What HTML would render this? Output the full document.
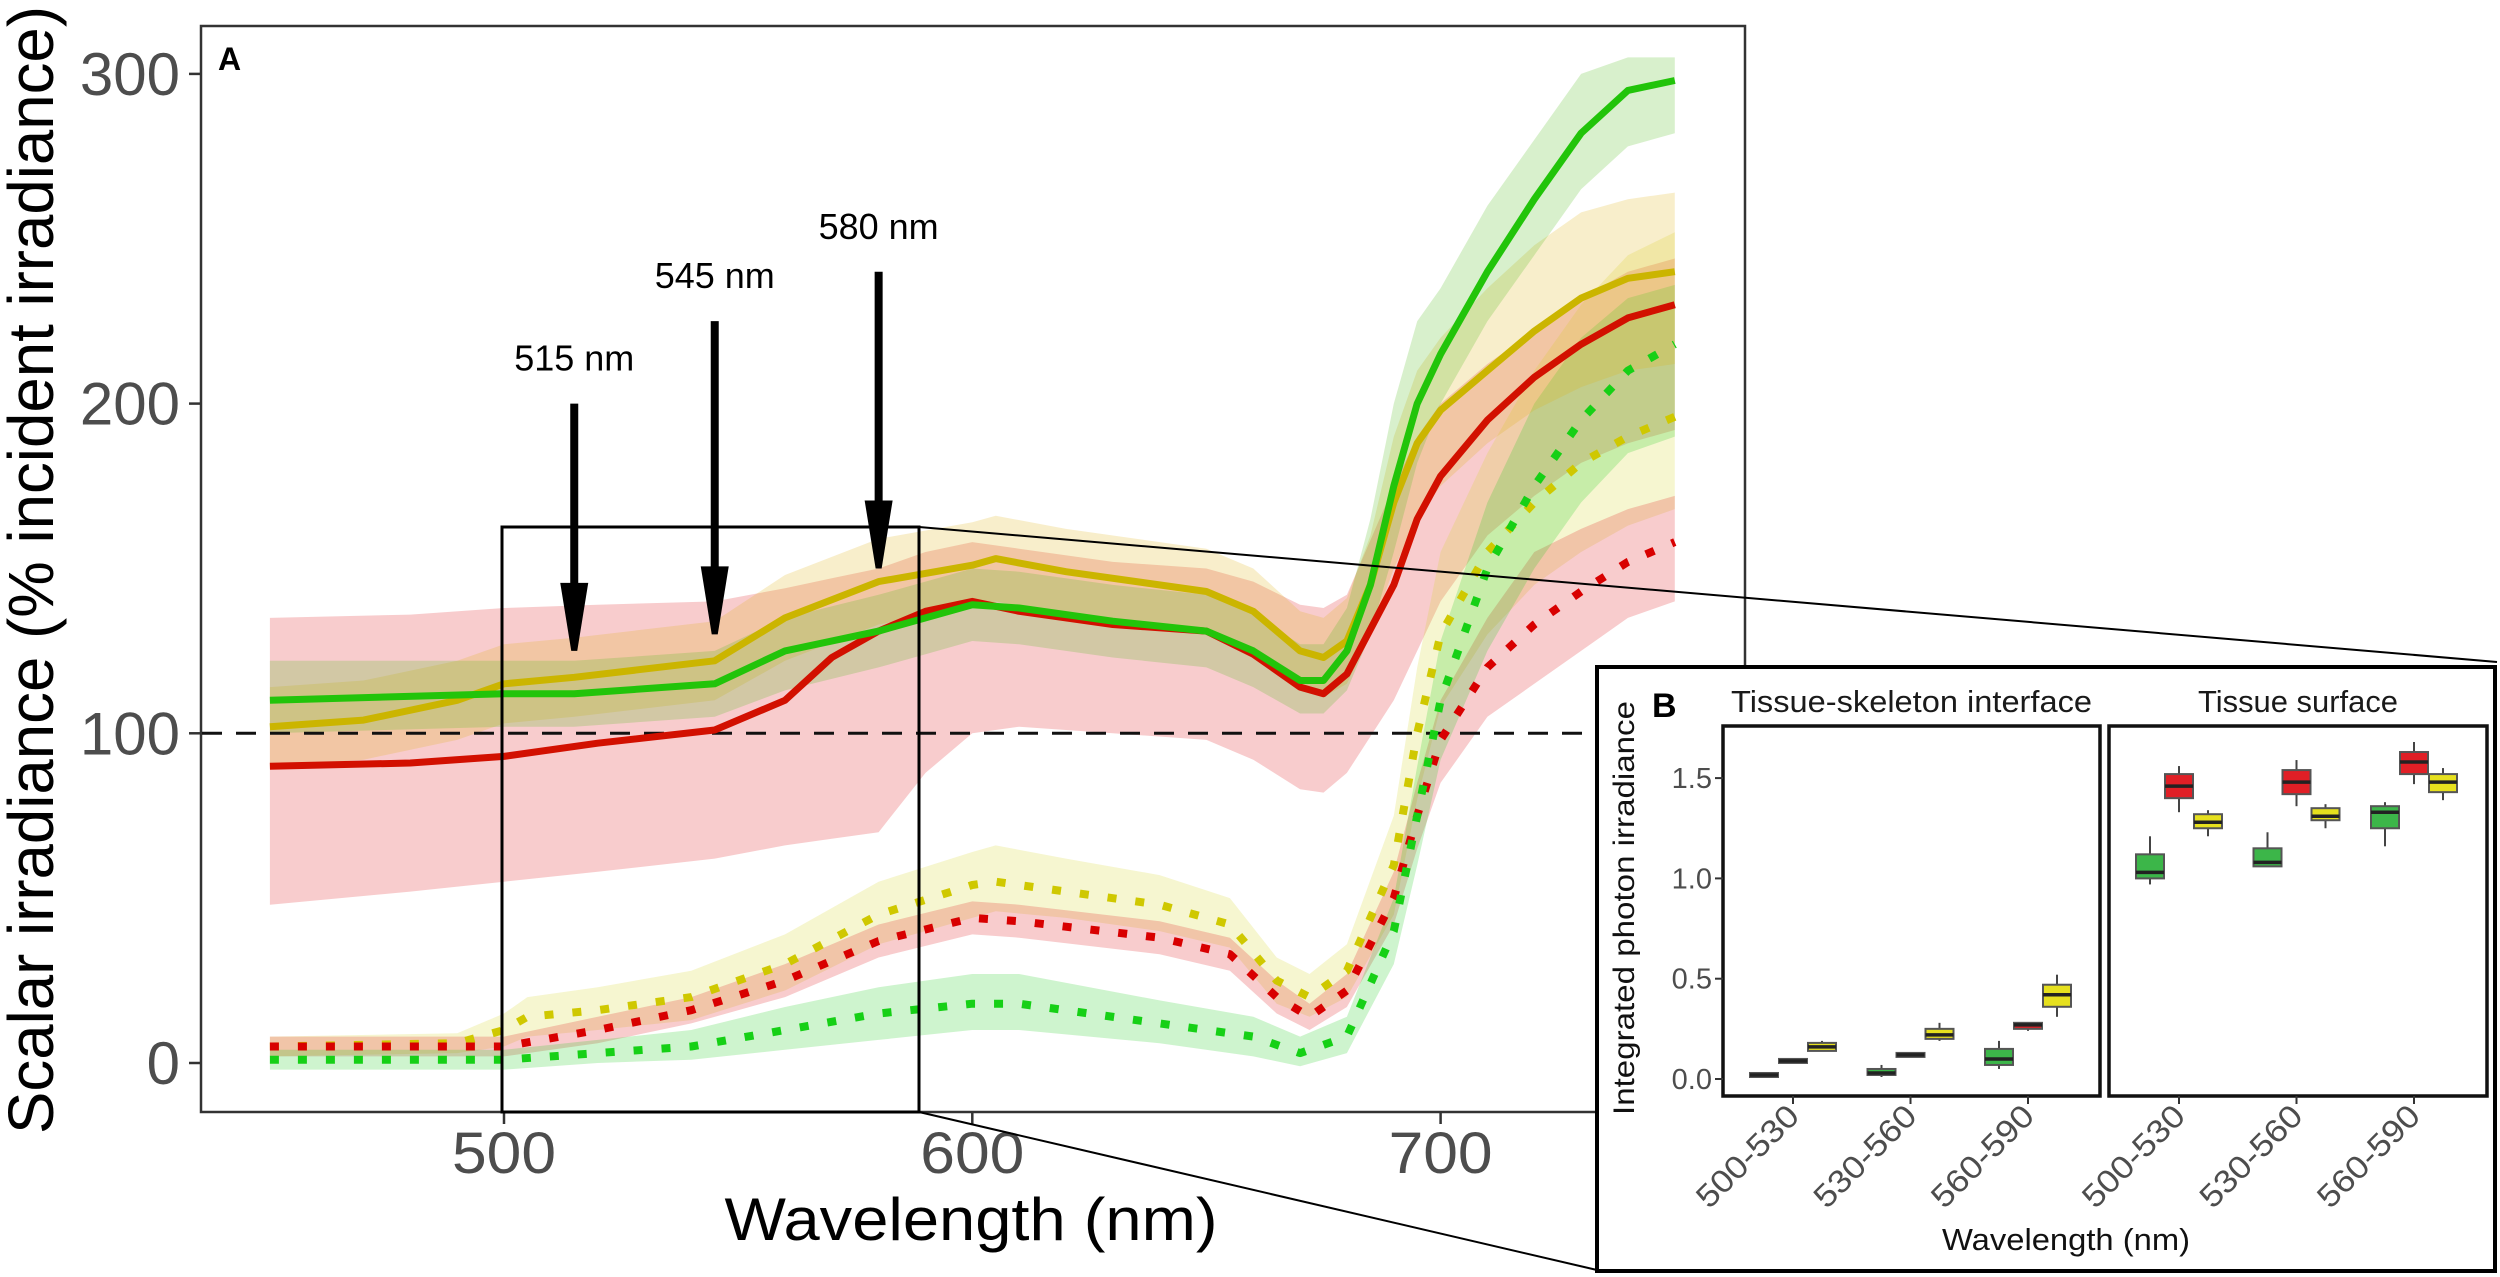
<!DOCTYPE html>
<html><head><meta charset="utf-8"><style>
html,body{margin:0;padding:0;background:#fff;}
svg{display:block;}
text{font-family:"Liberation Sans",sans-serif;}
</style></head><body>
<svg id="chart" width="2500" height="1277" viewBox="0 0 2500 1277" xmlns="http://www.w3.org/2000/svg">
<g id="panelA"></g>
<g id="panelB"></g>
</svg>
<script>
// ---------- Panel A data ----------
const solidGreenWl = [450,500,515,545,560,580,590,600,610,630,650,660,670,675,680,685,690,695,700,710,720,730,740,750];
const solidGreenVal = [110,112,112,115,125,131,135,139,138,134,131,125,116,116,125,145,175,200,215,240,262,282,295,298];
const solidGreenLo = [100,102,102,105,113,120,124,128,127,123,120,114,106,106,113,130,155,182,200,225,245,265,278,282];
const solidGreenHi = [122,122,122,125,135,142,146,150,149,145,142,136,127,127,138,165,200,225,235,260,280,300,305,305];

const solidYellowWl = [450,470,490,500,515,545,560,580,600,605,620,650,660,670,675,680,685,690,695,700,710,720,730,740,750];
const solidYellowVal = [102,104,110,115,117,122,135,146,151,153,149,143,137,125,123,128,145,170,188,198,210,222,232,238,240];
const solidYellowLo = [90,92,98,103,105,110,122,133,138,140,136,130,124,113,111,115,130,150,165,175,188,198,205,210,212];
const solidYellowHi = [114,116,122,127,129,134,148,159,164,166,162,156,150,137,135,141,160,190,210,220,235,248,258,262,264];

const solidRedWl = [450,480,500,520,545,560,570,580,590,600,610,630,650,660,670,675,680,690,695,700,710,720,730,740,750];
const solidRedVal = [90,91,93,97,101,110,123,131,137,140,137,133,131,124,114,112,118,145,165,178,195,208,218,226,230];
const solidRedLo = [48,52,55,58,62,66,68,70,88,100,102,100,98,92,83,82,88,110,125,140,160,172,182,188,192];
const solidRedHi = [135,136,138,139,140,144,147,150,155,158,156,152,150,146,139,138,142,175,190,200,212,222,232,240,244];

const dotYellowWl = [450,490,500,505,520,540,560,580,600,605,620,640,655,665,672,680,690,695,700,710,720,730,740,750];
const dotYellowVal = [5,6,10,14,16,20,30,45,54,55,52,48,42,25,20,28,60,100,130,155,170,182,190,196];
const dotYellowLo = [2,3,5,8,10,13,22,36,44,46,44,40,35,18,14,20,45,80,108,130,145,155,163,168];
const dotYellowHi = [8,9,15,20,23,28,39,55,64,66,62,57,50,32,27,36,75,120,155,185,210,230,245,252];

const dotRedWl = [450,490,500,520,540,560,580,600,610,640,655,665,672,680,690,695,700,710,720,730,740,750];
const dotRedVal = [5,5,5,10,16,25,37,44,43,38,33,20,14,22,50,75,98,120,133,143,152,158];
const dotRedLo = [2,2,2,6,12,20,32,39,38,33,28,15,10,17,42,65,85,105,115,125,135,140];
const dotRedHi = [8,8,8,14,20,30,42,49,48,43,38,25,18,27,58,85,110,135,155,162,168,172];

const dotGreenWl = [450,500,520,540,560,580,600,610,640,660,670,680,690,695,700,710,720,730,740,750];
const dotGreenVal = [1,1,3,5,10,15,18,18,12,8,3,8,40,75,110,150,175,195,210,218];
const dotGreenLo = [-2,-2,0,1,4,7,10,10,6,2,-1,3,30,60,92,125,150,170,185,190];
const dotGreenHi = [4,4,7,10,17,23,27,27,19,14,8,14,50,90,128,170,200,220,232,236];

const yTicksA = [0,100,200,300];
const xTicksA = [500,600,700];
const arrowWl = [515,545,580];
const arrowTop = [200,225,240];
const arrowTip = [125,130,150];
const arrowLabelY = [210,235,250];

// ---------- Panel B data ----------
const groupsB = ["500-530","530-560","560-590"];
const seriesB = ["green","red","yellow"];
const interfaceGreen = [[0.01,0.01,0.02,0.03,0.03],[0.01,0.02,0.03,0.05,0.07],[0.05,0.07,0.10,0.15,0.19]];
const interfaceRed = [[0.08,0.08,0.09,0.10,0.10],[0.11,0.11,0.12,0.13,0.13],[0.24,0.25,0.27,0.28,0.28]];
const interfaceYellow = [[0.14,0.14,0.16,0.18,0.19],[0.19,0.20,0.22,0.25,0.28],[0.31,0.36,0.42,0.47,0.52]];
const surfaceGreen = [[0.97,1.00,1.03,1.12,1.21],[1.06,1.06,1.08,1.15,1.23],[1.16,1.25,1.33,1.36,1.38]];
const surfaceRed = [[1.33,1.40,1.46,1.52,1.56],[1.36,1.42,1.48,1.54,1.59],[1.47,1.52,1.58,1.63,1.68]];
const surfaceYellow = [[1.21,1.25,1.28,1.32,1.34],[1.25,1.29,1.31,1.35,1.37],[1.39,1.43,1.48,1.52,1.55]];
const yTicksB = [0.0,0.5,1.0,1.5];
const yTickLabelsB = ["0.0","0.5","1.0","1.5"];

// ---------- helpers ----------
const NS = "http://www.w3.org/2000/svg";
function mk(tag, attrs, parent){
  const e = document.createElementNS(NS, tag);
  for (const k in attrs) e.setAttribute(k, attrs[k]);
  parent.appendChild(e);
  return e;
}
const xA = nm => 504 + (nm - 500) * 4.683;
const yA = v => 1063 - v * 3.297;
const yB = v => 1079 - v * 200.6;

const A = document.getElementById('panelA');
const B = document.getElementById('panelB');

const frameA = mk('rect', {x:201, y:26, width:1544, height:1086, fill:'none', stroke:'#333', 'stroke-width':2.5}, A);



function band(wl, lo, hi, color, name){
  let d = '';
  wl.forEach((w,i)=>{ d += (i?'L':'M') + xA(w).toFixed(1) + ',' + yA(hi[i]).toFixed(1); });
  for (let i = wl.length-1; i >= 0; i--) d += 'L' + xA(wl[i]).toFixed(1) + ',' + yA(lo[i]).toFixed(1);
  const p = mk('path', {d: d+'Z', fill: color, 'fill-opacity': 0.22, stroke:'none'}, A);
  
  
}
function line(wl, val, color, dotted, name){
  const pts = wl.map((w,i)=> xA(w).toFixed(1) + ',' + yA(val[i]).toFixed(1)).join(' ');
  const attrs = {points: pts, fill:'none', stroke: color, 'stroke-width': dotted ? 8 : 7, 'stroke-linejoin':'round'};
  if (dotted) attrs['stroke-dasharray'] = '9 19';
  const p = mk('polyline', attrs, A);
  
  
}

band(solidRedWl, solidRedLo, solidRedHi, '#e0161c', 'band-solid-red');
band(dotYellowWl, dotYellowLo, dotYellowHi, '#d8d428', 'band-dotted-yellow');
band(dotRedWl, dotRedLo, dotRedHi, '#e0161c', 'band-dotted-red');
band(dotGreenWl, dotGreenLo, dotGreenHi, '#22cc22', 'band-dotted-green');
band(solidYellowWl, solidYellowLo, solidYellowHi, '#e0b010', 'band-solid-yellow');
band(solidGreenWl, solidGreenLo, solidGreenHi, '#4cbb17', 'band-solid-green');

const ref = mk('line', {x1:202, x2:1744, y1:yA(100), y2:yA(100), stroke:'#111', 'stroke-width':3, 'stroke-dasharray':'20 14'}, A);



line(dotYellowWl, dotYellowVal, '#cfc800', true, 'line-dotted-yellow');
line(dotRedWl, dotRedVal, '#d80000', true, 'line-dotted-red');
line(dotGreenWl, dotGreenVal, '#16d016', true, 'line-dotted-green');
line(solidYellowWl, solidYellowVal, '#cbb500', false, 'line-solid-yellow');
line(solidRedWl, solidRedVal, '#d21000', false, 'line-solid-red');
line(solidGreenWl, solidGreenVal, '#22c40a', false, 'line-solid-green');

yTicksA.forEach(v=>{
  const t = mk('line', {x1:189, x2:201, y1:yA(v), y2:yA(v), stroke:'#333', 'stroke-width':2.5}, A);
  
  
  const l = mk('text', {x:180, y:yA(v)+21, 'text-anchor':'end', 'font-size':60, fill:'#4d4d4d'}, A);
  l.textContent = v;
  
  
});
xTicksA.forEach(v=>{
  const t = mk('line', {x1:xA(v), x2:xA(v), y1:1112, y2:1124, stroke:'#333', 'stroke-width':2.5}, A);
  
  
  const l = mk('text', {x:xA(v), y:1173, 'text-anchor':'middle', 'font-size':58, fill:'#4d4d4d', textLength:104, lengthAdjust:'spacingAndGlyphs'}, A);
  l.textContent = v;
  
  
});

const yt = mk('text', {x:0, y:0, transform:'translate(53,570) rotate(-90)', 'text-anchor':'middle', 'font-size':64, fill:'#000', textLength:1128, lengthAdjust:'spacingAndGlyphs'}, A);
yt.textContent = 'Scalar irradiance (% incident irradiance)';


const xt = mk('text', {x:971, y:1240, 'text-anchor':'middle', 'font-size':60, fill:'#000', textLength:493, lengthAdjust:'spacingAndGlyphs'}, A);
xt.textContent = 'Wavelength (nm)';



const la = mk('text', {x:218, y:70, 'font-size':32, 'font-weight':'bold', fill:'#000'}, A);
la.textContent = 'A';



const zb = mk('rect', {x:502, y:527, width:417, height:585, fill:'none', stroke:'#000', 'stroke-width':3}, A);


const c1 = mk('line', {x1:919, y1:527, x2:2497, y2:662, stroke:'#000', 'stroke-width':2}, A);


const c2 = mk('line', {x1:919, y1:1112, x2:1597, y2:1270, stroke:'#000', 'stroke-width':2}, A);



arrowWl.forEach((w,i)=>{
  const x = xA(w);
  const top = yA(arrowTop[i]), tip = yA(arrowTip[i]);
  const headStart = tip - 68;
  const s = mk('line', {x1:x, x2:x, y1:top, y2:headStart+4, stroke:'#000', 'stroke-width':8}, A);
  
  
  const h = mk('path', {d:`M${x-14},${headStart} L${x+14},${headStart} L${x+3},${tip} L${x-3},${tip} Z`, fill:'#000'}, A);
  
  
  const t = mk('text', {x:x, y:yA(arrowLabelY[i]), 'text-anchor':'middle', 'font-size':36, fill:'#000'}, A);
  t.textContent = w + ' nm';
  
  
});

// ---------- Panel B ----------
const bg = mk('rect', {x:1597, y:667, width:898, height:604, fill:'#fff', stroke:'#000', 'stroke-width':4}, B);


const lb = mk('text', {x:1652, y:717, 'font-size':34, 'font-weight':'bold', fill:'#000'}, B);
lb.textContent = 'B';



const colors = {green:'#3cb649', red:'#e01f26', yellow:'#e6e01e'};
const panels = [
  {x0:1723, x1:2100, title:'Tissue-skeleton interface', tlen:361, data:[interfaceGreen, interfaceRed, interfaceYellow], name:'tissue-skeleton-interface'},
  {x0:2109, x1:2487, title:'Tissue surface', tlen:200, data:[surfaceGreen, surfaceRed, surfaceYellow], name:'tissue-surface'}
];
const offsets = [-29, 0, 29];
panels.forEach(p=>{
  const fr = mk('rect', {x:p.x0, y:726, width:p.x1-p.x0, height:370, fill:'none', stroke:'#111', 'stroke-width':3.5}, B);
  
  
  const tt = mk('text', {x:(p.x0+p.x1)/2, y:712, 'text-anchor':'middle', 'font-size':31, fill:'#1a1a1a', textLength:p.tlen, lengthAdjust:'spacingAndGlyphs'}, B);
  tt.textContent = p.title;
  
  
  groupsB.forEach((g,gi)=>{
    const cx = p.x0 + 70 + gi*117.5;
    const tk = mk('line', {x1:cx, x2:cx, y1:1096, y2:1104, stroke:'#333', 'stroke-width':2}, B);
    
    
    const lbl = mk('text', {x:0, y:0, transform:`translate(${cx+8},${1118}) rotate(-45)`, 'text-anchor':'end', 'font-size':32, fill:'#4d4d4d', textLength:130, lengthAdjust:'spacingAndGlyphs'}, B);
    lbl.textContent = g;
    
    
    seriesB.forEach((s,si)=>{
      const st = p.data[si][gi];
      const bx = cx + offsets[si];
      const w = mk('line', {x1:bx, x2:bx, y1:yB(st[0]), y2:yB(st[4]), stroke:'#444', 'stroke-width':2}, B);
      
      
      const r = mk('rect', {x:bx-14, y:yB(st[3]), width:28, height:Math.max(3, yB(st[1])-yB(st[3])), fill:colors[s], stroke:'#555', 'stroke-width':2}, B);
      
      
      const m = mk('line', {x1:bx-14, x2:bx+14, y1:yB(st[2]), y2:yB(st[2]), stroke:'#222', 'stroke-width':3.5}, B);
      
      
    });
  });
});
yTicksB.forEach((v,i)=>{
  const t = mk('line', {x1:1715, x2:1723, y1:yB(v), y2:yB(v), stroke:'#333', 'stroke-width':2}, B);
  
  
  const l = mk('text', {x:1712, y:yB(v)+10, 'text-anchor':'end', 'font-size':29, fill:'#4d4d4d'}, B);
  l.textContent = yTickLabelsB[i];
  
  
});
const byt = mk('text', {x:0, y:0, transform:'translate(1634,908) rotate(-90)', 'text-anchor':'middle', 'font-size':30, fill:'#111', textLength:414, lengthAdjust:'spacingAndGlyphs'}, B);
byt.textContent = 'Integrated photon irradiance';


const bxt = mk('text', {x:2066, y:1250, 'text-anchor':'middle', 'font-size':31, fill:'#111', textLength:248, lengthAdjust:'spacingAndGlyphs'}, B);
bxt.textContent = 'Wavelength (nm)';


</script>
</body></html>
